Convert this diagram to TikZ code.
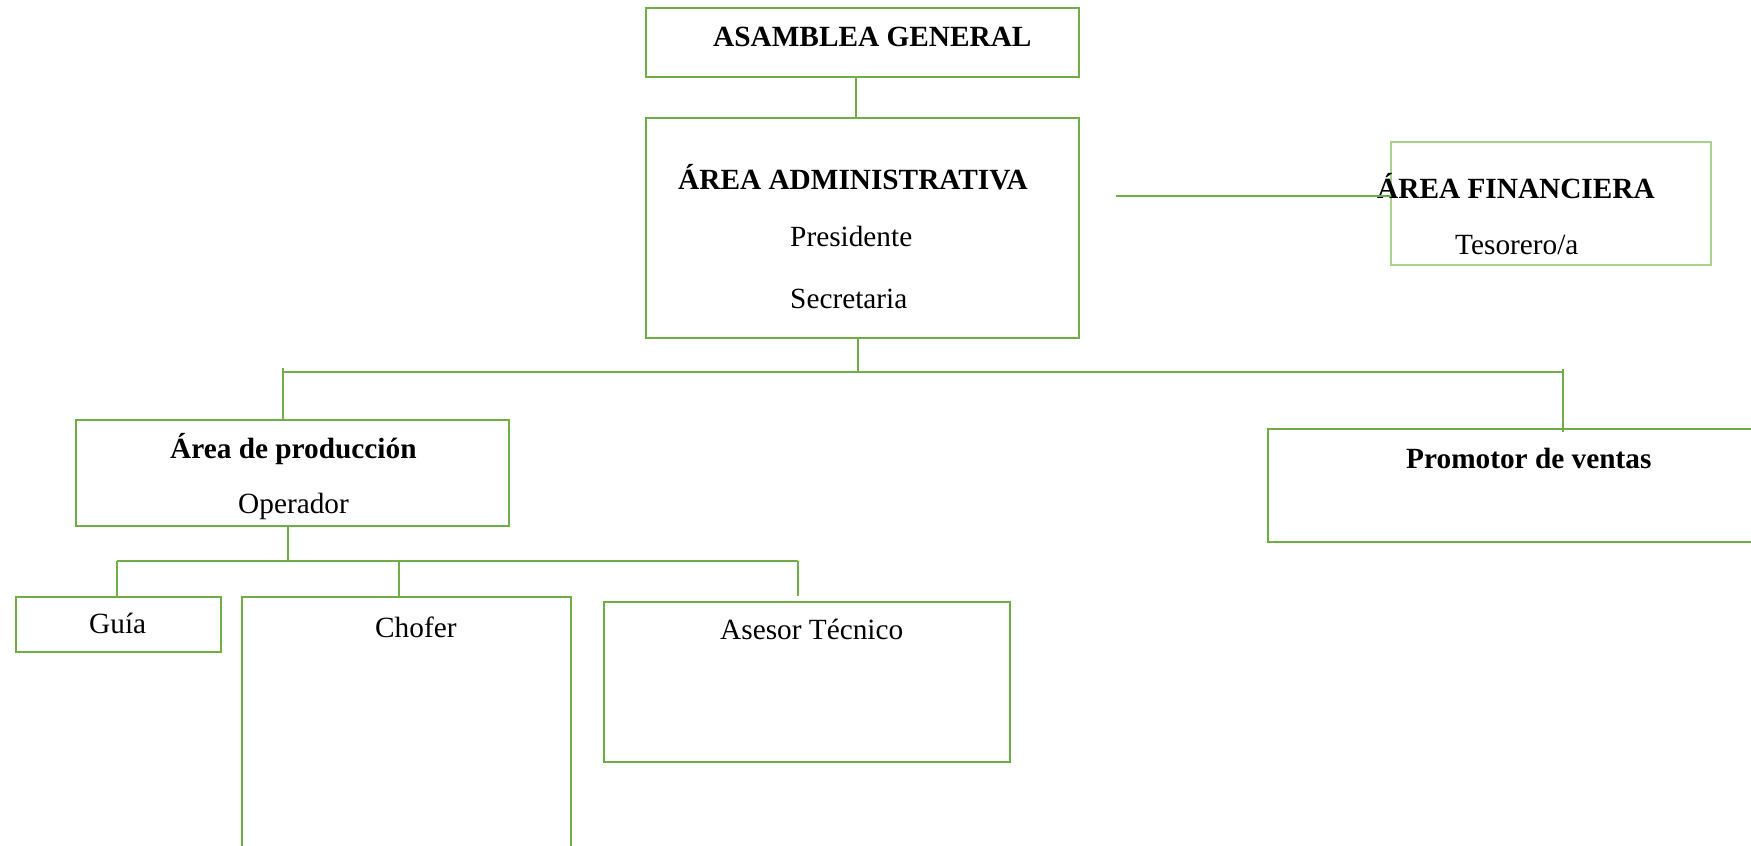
\documentclass[tikz,border=0pt]{standalone}
\usepackage{fontspec}
\setmainfont{Liberation Serif}
\definecolor{verde}{HTML}{70AD47}
\definecolor{verdeclaro}{HTML}{A9D18E}

\begin{document}
\begin{tikzpicture}[x=1pt, y=-1pt, font=\fontsize{29.3}{35}\selectfont,
	caja/.style={draw=verde, line width=2.5pt, rectangle, inner sep=0pt},
	linea/.style={draw=verde, line width=2.5pt},
	texto/.style={anchor=base west, inner sep=0pt},
	negrita/.style={font=\fontsize{29.3}{35}\selectfont\bfseries}]
\useasboundingbox (0,0) rectangle (1751,846);
\clip (0,0) rectangle (1751,846);
\node[caja, minimum width=433pt, minimum height=69pt] (asamblea) at (862.5,42.5) {};
\node[caja, minimum width=433pt, minimum height=220pt] (admin) at (862.5,228) {};
\node[caja, draw=verdeclaro, line width=1.8pt, minimum width=320pt, minimum height=123pt] (finan) at (1551,203.5) {};
\node[caja, minimum width=433pt, minimum height=106pt] (produc) at (292.5,473) {};
\node[caja, minimum width=492pt, minimum height=113pt] (promotor) at (1514,485.5) {};
\node[caja, minimum width=205pt, minimum height=55pt] (guia) at (118.5,624.5) {};
\node[caja, minimum width=329pt, minimum height=303pt] (chofer) at (406.5,748.5) {};
\node[caja, minimum width=406pt, minimum height=160pt] (asesor) at (807,682) {};
\node[texto, negrita] (t-asamblea) at (713,46) {ASAMBLEA GENERAL};
\node[texto, negrita] (t-admin) at (678,189) {ÁREA ADMINISTRATIVA};
\node[texto] (t-pres) at (790,246) {Presidente};
\node[texto] (t-secr) at (790,308) {Secretaria};
\node[texto, negrita] (t-finan) at (1377,198) {ÁREA FINANCIERA};
\node[texto] (t-teso) at (1455,254) {Tesorero/a};
\node[texto, negrita] (t-produc) at (170,458) {Área de producción};
\node[texto] (t-oper) at (238,513) {Operador};
\node[texto, negrita] (t-promotor) at (1406,468) {Promotor de ventas};
\node[texto] (t-guia) at (89,633) {Guía};
\node[texto] (t-chofer) at (375,637) {Chofer};
\node[texto] (t-asesor) at (720,639) {Asesor Técnico};
\coordinate (finline) at (1116,196);
\coordinate (bus) at (858,372);
\coordinate (busL) at (283,372);
\coordinate (busR) at (1563,372);
\coordinate (tickL) at (283,368);
\coordinate (tickR) at (1563,369);
\coordinate (bus2) at (288,561);
\coordinate (g1) at (117,561);
\coordinate (c1) at (399,561);
\coordinate (a1) at (798,561);
\draw[linea] ([xshift=-6.5pt]asamblea.south) -- ([xshift=-6.5pt]admin.north);
\draw[linea] (finline) -- (finline -| finan.west);
\draw[linea] (bus |- admin.south) -- (bus);
\draw[linea] (busL) -- (busR);
\draw[linea] (tickL) -- (tickL |- produc.north);
\draw[linea] (tickR) -- ([yshift=-4pt]tickR |- promotor.north);
\draw[linea] (bus2 |- produc.south) -- (bus2);
\draw[linea] (g1) -- (a1);
\draw[linea] (g1) -- (g1 |- guia.north);
\draw[linea] (c1) -- ([yshift=-2pt]c1 |- chofer.north);
\draw[linea] (a1) -- ([yshift=5pt]a1 |- asesor.north);
\end{tikzpicture}
\end{document}
